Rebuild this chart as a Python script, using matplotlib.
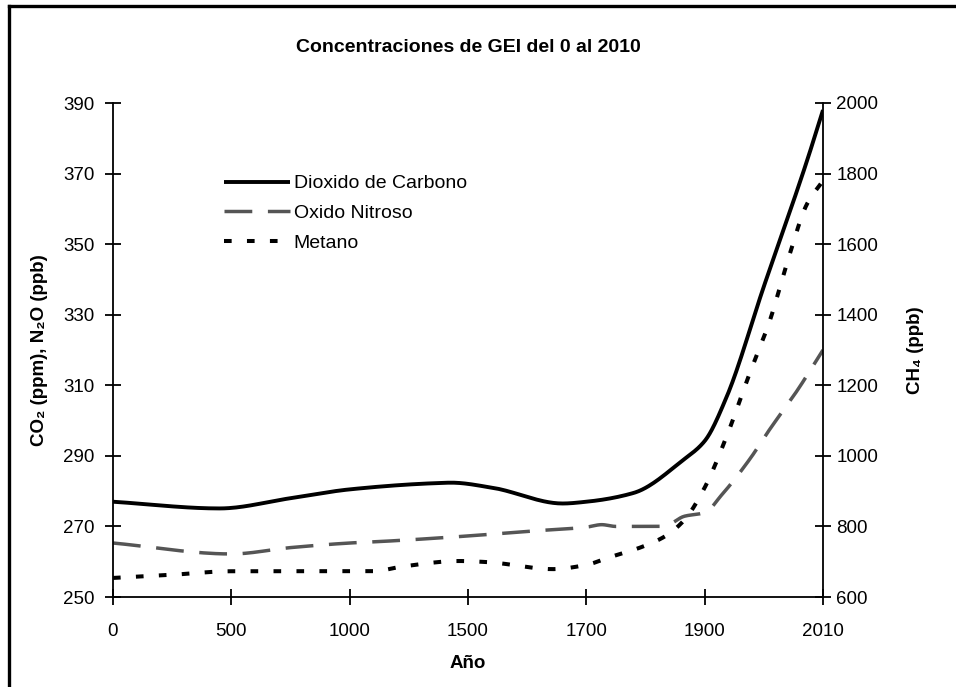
import numpy as np
import matplotlib
matplotlib.use("Agg")
import matplotlib.pyplot as plt
from matplotlib.lines import Line2D

plt.rcParams['font.family'] = ['Liberation Sans', 'DejaVu Sans']

# tick years on the (non-linear) category axis
tick_years = [0, 500, 1000, 1500, 1700, 1900, 2010]
tick_labels = ['0', '500', '1000', '1500', '1700', '1900', '2010']

co2_years = [0, 450, 750, 1000, 1340, 1430, 1540, 1660, 1700, 1780, 1865, 1900, 1920, 1955, 1995, 2010]
co2_vals = [277, 275.1, 278, 280.5, 282.2, 282.4, 281, 276.5, 277, 279.5, 289, 294.2, 306.4, 338, 373.5, 388]

n2o_years = [0, 500, 750, 1000, 1150, 1500, 1600, 1700, 1726, 1750, 1830, 1866, 1900, 1916, 1942, 1960, 1986, 2010]
n2o_vals = [265.3, 262.2, 264, 265.3, 265.8, 267.3, 268.6, 269.8, 270.5, 270, 270, 272.9, 273.9, 279, 289.1, 297.3, 308.5, 320]

ch4_years = [0, 250, 500, 1100, 1220, 1460, 1532, 1643, 1700, 1738, 1794, 1834, 1866, 1900, 1920, 1942, 1960, 1978, 1995, 2010]
ch4_vals = [654, 663, 673, 673, 686, 702, 699, 679, 691, 712, 742, 773, 819, 910, 1052, 1235, 1378, 1561, 1713, 1780]


def to_pos(years):
    return np.interp(years, tick_years, np.arange(len(tick_years)))


def smooth(x, y, n=30):
    # monotone cubic (Fritsch-Carlson) to mimic a smoothed line
    x = np.asarray(x, float)
    y = np.asarray(y, float)
    h = np.diff(x)
    d = np.diff(y) / h
    m = np.zeros_like(y)
    m[0], m[-1] = d[0], d[-1]
    for i in range(1, len(y) - 1):
        if d[i - 1] * d[i] > 0:
            w1 = 2 * h[i] + h[i - 1]
            w2 = h[i] + 2 * h[i - 1]
            m[i] = (w1 + w2) / (w1 / d[i - 1] + w2 / d[i])
    xs, ys = [], []
    for i in range(len(x) - 1):
        t = np.linspace(0, 1, n, endpoint=False)
        h00 = 2 * t**3 - 3 * t**2 + 1
        h10 = t**3 - 2 * t**2 + t
        h01 = -2 * t**3 + 3 * t**2
        h11 = t**3 - t**2
        xs.append(x[i] + t * h[i])
        ys.append(h00 * y[i] + h10 * h[i] * m[i] + h01 * y[i + 1] + h11 * h[i] * m[i + 1])
    xs.append([x[-1]])
    ys.append([y[-1]])
    return np.concatenate(xs), np.concatenate(ys)


fig = plt.figure(figsize=(9.56, 6.87), dpi=100)
ax = fig.add_axes([113 / 956, 1 - 597 / 687, 710 / 956, 494 / 687])
ax2 = ax.twinx()

x, y = smooth(to_pos(co2_years), co2_vals)
l1, = ax.plot(x, y, color='black', lw=2.8, solid_capstyle='butt', label='Dioxido de Carbono')
x, y = smooth(to_pos(n2o_years), n2o_vals)
l2, = ax.plot(x, y, color='#555555', lw=2.5, dashes=(8, 4.5), label='Oxido Nitroso')
x, y = smooth(to_pos(ch4_years), ch4_vals)
l3, = ax2.plot(x, y, color='black', lw=2.9, dashes=(1.9, 3.8), label='Metano')

ax.set_xlim(0, 6)
ax.set_ylim(250, 390)
ax2.set_ylim(600, 2000)
ax.set_xticks(range(len(tick_years)))
ax.set_xticklabels(tick_labels)
ax.set_yticks(np.arange(250, 391, 20))
ax2.set_yticks(np.arange(600, 2001, 200))

for a in (ax, ax2):
    a.tick_params(direction='inout', length=12, width=1.3, labelsize=13.5)
    a.spines['top'].set_visible(False)
    for s in a.spines.values():
        s.set_linewidth(1.3)
ax.tick_params(axis='x', pad=12.5)
ax.tick_params(axis='y', pad=7.5)
ax2.tick_params(axis='y', pad=3.5)
ax.spines['right'].set_visible(False)
ax2.spines['left'].set_visible(False)
ax2.spines['bottom'].set_visible(False)

ax.set_title('Concentraciones de GEI del 0 al 2010', fontsize=14, fontweight='bold', pad=37)
ax.set_xlabel('Año', fontsize=13.5, fontweight='bold', labelpad=11)
ax.set_ylabel('CO₂ (ppm), N₂O (ppb)', fontsize=13.5, fontweight='bold', labelpad=10.5)
ax2.set_ylabel('CH₄ (ppb)', fontsize=13.5, fontweight='bold', labelpad=21)

ax.legend(handles=[l1, l2, l3], loc='upper left', bbox_to_anchor=(214 / 956, 1 - 165 / 687),
          bbox_transform=fig.transFigure, frameon=False, fontsize=14,
          handlelength=3.4, handletextpad=0.2, labelspacing=0.63, borderpad=0)

# frame lines at the top and left of the picture
fig.add_artist(Line2D([9 / 956, 9 / 956], [0, 1 - 6 / 687], color='black', lw=2.4,
                      transform=fig.transFigure))
fig.add_artist(Line2D([9 / 956, 1], [1 - 6 / 687, 1 - 6 / 687], color='black', lw=2.4,
                      transform=fig.transFigure))

fig.savefig('out.png', dpi=100)
